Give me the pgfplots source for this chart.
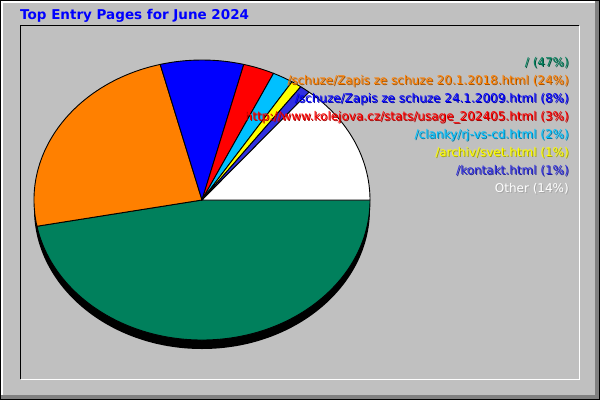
\documentclass[border=0pt]{standalone}
\usepackage{pgfplots}
\pgfplotsset{compat=1.18}
\usepackage{pgfplotstable}
\usepackage{fontspec}
\setmainfont{DejaVu Sans}

\definecolor{pieA}{HTML}{00805C}
\definecolor{pieB}{HTML}{FF8000}
\definecolor{pieC}{HTML}{0000FF}
\definecolor{pieD}{HTML}{FF0000}
\definecolor{pieE}{HTML}{00C0FF}
\definecolor{pieF}{HTML}{FFFF00}
\definecolor{pieG}{HTML}{3030E0}
\definecolor{pieH}{HTML}{FFFFFF}
\definecolor{bg}{HTML}{C0C0C0}
\definecolor{darkedge}{HTML}{808080}
\definecolor{titleblue}{HTML}{0000FF}

% entry pages, percent of entries
\pgfplotstableread[col sep=comma]{
page,pct,col
/,47,pieA
/schuze/Zapis ze schuze 20.1.2018.html,24,pieB
/schuze/Zapis ze schuze 24.1.2009.html,8,pieC
http://www.kolejova.cz/stats/usage\_202405.html,3,pieD
/clanky/rj-vs-cd.html,2,pieE
/archiv/svet.html,1,pieF
/kontakt.html,1,pieG
Other,14,pieH
}\pagedata

\begin{document}
\begin{tikzpicture}
\begin{axis}[
  scale only axis,
  width=600pt, height=400pt,
  xmin=0, xmax=600, ymin=0, ymax=400,
  y dir=reverse,
  hide axis,
  clip=false,
]
\pgfplotsextra{%
  % frame
  \fill[bg] (axis cs:0,0) rectangle (axis cs:600,400);
  \fill[white] (axis cs:1,1) rectangle (axis cs:595,3);
  \fill[white] (axis cs:1,1) rectangle (axis cs:3,395);
  \fill[darkedge] (axis cs:595,1) rectangle (axis cs:599,399);
  \fill[darkedge] (axis cs:1,395) rectangle (axis cs:599,399);
  \draw[black, line width=1pt] (axis cs:0.5,0.5) rectangle (axis cs:599.5,399.5);
  \draw[black, line width=1pt] (axis cs:20.5,379) -- (axis cs:20.5,25.5) -- (axis cs:579,25.5);
  \draw[white, line width=1pt] (axis cs:20.5,379.5) -- (axis cs:579.5,379.5) -- (axis cs:579.5,25.5);
  % title
  \node[anchor=base west, inner sep=0pt, text=titleblue,
        font=\bfseries\fontsize{13.5}{15}\selectfont] at (axis cs:20,19)
        {Top Entry Pages for June 2024};
  % shadow under the pie
  \fill[black] (axis cs:202,209) ellipse [x radius=168pt, y radius=140pt];
  \pgfplotstablegetrowsof{\pagedata}
  \pgfmathtruncatemacro\lastrow{\pgfplotsretval-1}
  % slices
  \def\angstart{0}
  \pgfplotsforeachungrouped \i in {0,...,\lastrow}{%
    \pgfplotstablegetelem{\i}{pct}\of\pagedata \let\pct\pgfplotsretval
    \pgfplotstablegetelem{\i}{col}\of\pagedata \let\slicecol\pgfplotsretval
    \pgfmathsetmacro\angend{\angstart+3.6*\pct}
    \pgfmathsetmacro\px{202+168*cos(\angstart)}
    \pgfmathsetmacro\py{200+140*sin(\angstart)}
    \pgfmathsetmacro\sa{-\angstart}
    \pgfmathsetmacro\ea{-\angend}
    \filldraw[fill=\slicecol, draw=black, line width=0.9pt, line join=round]
      (axis cs:202,200) -- (axis cs:\px,\py)
      arc[start angle=\sa, end angle=\ea, x radius=168pt, y radius=140pt]
      -- cycle;
    \let\angstart\angend
  }%
  % legend, drawn over the pie
  \pgfplotsforeachungrouped \i in {0,...,\lastrow}{%
    \pgfplotstablegetelem{\i}{pct}\of\pagedata \let\pct\pgfplotsretval
    \pgfplotstablegetelem{\i}{col}\of\pagedata \let\slicecol\pgfplotsretval
    \pgfplotstablegetelem{\i}{page}\of\pagedata \let\pagename\pgfplotsretval
    \pgfmathsetmacro\ly{63+18*\i}
    \pgfmathsetmacro\lys{\ly+1}
    \node[anchor=east, inner sep=0pt, text=\slicecol!65!black,
          font=\fontsize{12}{14}\selectfont] at (axis cs:570,\lys)
          {\pagename\ (\pct\%)};
    \node[anchor=east, inner sep=0pt, text=\slicecol,
          font=\fontsize{12}{14}\selectfont] at (axis cs:569,\ly)
          {\pagename\ (\pct\%)};
  }%
}
\end{axis}
\end{tikzpicture}
\end{document}
